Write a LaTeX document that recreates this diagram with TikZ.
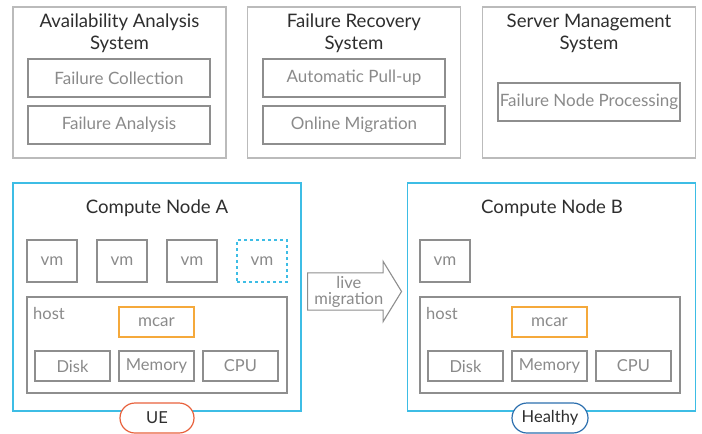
\documentclass[tikz,border=0pt]{standalone}
\usepackage{fontspec}
\setmainfont{Lato}
\usetikzlibrary{shapes.arrows}

\definecolor{boxgray}{HTML}{BBBBBB}
\definecolor{linegray}{HTML}{8E8E8E}
\definecolor{textgray}{HTML}{8A8A8A}
\definecolor{textdark}{HTML}{2E2E2E}
\definecolor{nodeblue}{HTML}{3DBDE5}
\definecolor{mcarorange}{HTML}{F5A93B}
\definecolor{uered}{HTML}{E8613C}
\definecolor{healthyblue}{HTML}{2C6FAE}

\begin{document}
\begin{tikzpicture}[x=1pt,y=-1pt,font=\fontsize{16.5}{17}\selectfont]
\useasboundingbox (0,0) rectangle (702,434);

\begin{scope}[every node/.style={draw=boxgray,line width=1.4pt,minimum width=213,minimum height=151,inner sep=0}]
    \node (AAS) at (119.5,82.5) {};
    \node (FRS) at (354,82.5)   {};
    \node (SMS) at (589,82.5)   {};
\end{scope}

\begin{scope}[every node/.style={draw=nodeblue,line width=1.6pt,minimum width=288,minimum height=228,inner sep=0}]
    \node (NodeA) at (157,297)   {};
    \node (NodeB) at (551.5,297) {};
\end{scope}

\begin{scope}[every node/.style={text=textdark,align=center,font=\fontsize{18.6}{22}\selectfont}]
    \node (AAStitle) at (119.5,33) {Availability Analysis\\System};
    \node (FRStitle) at (354,33)   {Failure Recovery\\System};
    \node (SMStitle) at (589,33)   {Server Management\\System};
    \node (NodeAtitle) at (157,208)   {Compute Node A};
    \node (NodeBtitle) at (552,208)   {Compute Node B};
\end{scope}

\begin{scope}[every node/.style={draw=linegray,line width=1.2pt,text=textgray,minimum width=182,minimum height=38,inner sep=0,font=\fontsize{17}{18}\selectfont}]
    \node (collect) at (119,78)  {Failure Collection};
    \node (analyse) at (119,125) {Failure Analysis};
    \node (pullup)  at (354,78)  {Automatic Pull-up};
    \node (migrate) at (354,125) {Online Migration};
    \node (process) at (589,102) {Failure Node Processing};
\end{scope}

\begin{scope}[every node/.style={draw=linegray,line width=1.2pt,text=textgray,minimum width=260,minimum height=96,inner sep=0}]
    \node (hostA) at (157,345) {};
    \node (hostB) at (550,345) {};
\end{scope}

\begin{scope}[every node/.style={draw=linegray,line width=1.2pt,text=textgray,minimum width=50,minimum height=42,inner sep=0,font=\fontsize{17}{18}\selectfont}]
    \node (vmA1) at (52,261)  {vm};
    \node (vmA2) at (122,261) {vm};
    \node (vmA3) at (192,261) {vm};
    \node [draw=nodeblue,dashed] (vmA4) at (262,261) {vm};
    \node (vmB1) at (445,261) {vm};
\end{scope}

\begin{scope}[every node/.style={draw=linegray,line width=1.2pt,text=textgray,minimum width=75,minimum height=30,inner sep=0}]
    \node [draw=mcarorange,font=\fontsize{17}{18}\selectfont] (mcarA) at (156.5,322) {mcar};
    \node (diskA) at (72.5,366)  {Disk};
    \node (memA)  at (156.5,366) {Memory};
    \node (cpuA)  at (240.5,366) {CPU};
    \node [draw=mcarorange,font=\fontsize{17}{18}\selectfont] (mcarB) at (549.5,322) {mcar};
    \node (diskB) at (465.5,366) {Disk};
    \node (memB)  at (549.5,366) {Memory};
    \node (cpuB)  at (633.5,366) {CPU};
\end{scope}

\node [text=textgray,anchor=west,inner sep=0] (hostAlabel) at (33,313) {host};
\node [text=textgray,anchor=west,inner sep=0] (hostBlabel) at (426,313) {host};

\begin{scope}[every node/.style={fill=white,line width=1.2pt,text=textdark,rounded corners=15,minimum height=30,inner sep=0,font=\fontsize{16.5}{18}\selectfont}]
    \node [draw=uered,minimum width=74] (UE) at (157,418) {UE};
    \node [draw=healthyblue,minimum width=76] (healthy) at (550,418) {Healthy};
\end{scope}

\node [shape=single arrow,draw=linegray,line width=1.1pt,text=textgray,align=center,
       minimum height=94,single arrow head extend=11.5,single arrow tip angle=117,
       inner xsep=1,inner ysep=2.5,font=\fontsize{16.5}{16}\selectfont,anchor=tail]
      (live) at (307,291.5) {live\\migration};
\end{tikzpicture}
\end{document}
